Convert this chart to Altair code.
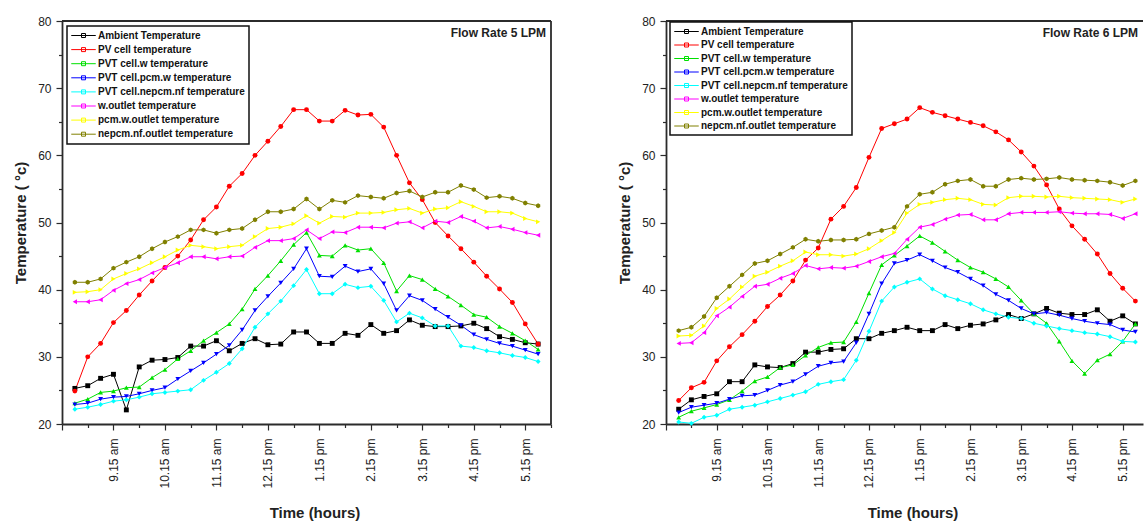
import altair as alt
import pandas as pd

FONT = "Liberation Sans"

# sample times (decimal hours), every 15 minutes from 8:30 am to 5:30 pm
times = [8.5, 8.75, 9.0, 9.25, 9.5, 9.75, 10.0, 10.25, 10.5, 10.75, 11.0, 11.25,
         11.5, 11.75, 12.0, 12.25, 12.5, 12.75, 13.0, 13.25, 13.5, 13.75, 14.0, 14.25,
         14.5, 14.75, 15.0, 15.25, 15.5, 15.75, 16.0, 16.25, 16.5, 16.75, 17.0, 17.25, 17.5]

tick_hours = [9.25, 10.25, 11.25, 12.25, 13.25, 14.25, 15.25, 16.25, 17.25]
tick_labels = ["9.15 am", "10.15 am", "11.15 am", "12.15 pm", "1.15 pm",
               "2.15 pm", "3.15 pm", "4.15 pm", "5.15 pm"]

series_names = ["Ambient Temperature", "PV cell temperature", "PVT cell.w temperature",
                "PVT cell.pcm.w temperature", "PVT cell.nepcm.nf temperature",
                "w.outlet temperature", "pcm.w.outlet temperature",
                "nepcm.nf.outlet temperature"]
series_colors = ["#000000", "#FF0000", "#00E000", "#0000FF", "#00FFFF",
                 "#FF00FF", "#FFFF00", "#808000"]
series_shapes = ["square", "circle", "triangle-up", "triangle-down", "diamond",
                 "triangle-left", "triangle-right",
                 "M0,-1L0.87,-0.5L0.87,0.5L0,1L-0.87,0.5L-0.87,-0.5Z"]

# ---- Flow rate 5 LPM ----
ambient_5 = [25.3, 25.7, 26.8, 27.4, 22.1, 28.5, 29.5, 29.6, 29.9, 31.6, 31.6, 32.4,
             30.9, 32.0, 32.7, 31.8, 31.9, 33.7, 33.7, 32.0, 32.0, 33.5, 33.2, 34.8,
             33.5, 33.9, 35.5, 34.7, 34.5, 34.5, 34.6, 35.0, 34.2, 33.0, 32.6, 32.1, 31.9]
pv_5 = [24.9, 30.0, 32.0, 35.1, 36.9, 39.2, 41.3, 43.3, 45.0, 47.4, 50.4, 52.3,
        55.4, 57.3, 60.0, 62.1, 64.3, 66.8, 66.8, 65.1, 65.1, 66.7, 66.0, 66.1,
        64.2, 60.0, 55.9, 53.4, 50.0, 48.0, 46.1, 44.1, 42.0, 40.1, 38.1, 34.9, 31.9]
pvt_w_5 = [23.1, 23.7, 24.7, 24.9, 25.4, 25.5, 26.9, 28.1, 29.7, 30.9, 32.4, 33.6,
           34.9, 37.1, 40.1, 42.1, 44.3, 46.7, 48.5, 45.1, 45.0, 46.6, 45.9, 46.1,
           44.0, 39.8, 42.1, 41.5, 40.1, 39.0, 37.7, 36.3, 35.9, 34.5, 33.5, 32.4, 31.1]
pvt_pcm_5 = [22.9, 23.1, 23.7, 24.0, 24.1, 24.5, 25.0, 25.4, 26.7, 27.9, 29.1, 30.4,
             31.7, 34.0, 36.9, 39.0, 41.0, 43.1, 46.1, 42.0, 41.9, 43.5, 42.7, 43.1,
             40.9, 36.9, 39.1, 38.4, 37.1, 35.9, 34.7, 33.3, 32.6, 32.0, 31.6, 31.0, 30.4]
pvt_nf_5 = [22.2, 22.5, 22.9, 23.4, 23.6, 24.0, 24.5, 24.7, 24.9, 25.1, 26.5, 27.7,
            29.0, 31.2, 34.4, 36.4, 38.3, 40.6, 43.0, 39.4, 39.4, 40.8, 40.3, 40.5,
            38.4, 35.2, 36.5, 35.8, 34.6, 34.6, 31.6, 31.4, 30.9, 30.6, 30.2, 29.9, 29.3]
w_out_5 = [38.2, 38.2, 38.5, 39.9, 40.9, 41.5, 42.5, 43.3, 44.0, 44.9, 44.9, 44.6,
           44.9, 45.0, 46.3, 47.3, 47.3, 47.6, 48.9, 47.6, 48.6, 48.5, 49.3, 49.3,
           49.2, 49.9, 50.1, 49.2, 50.2, 50.0, 50.9, 50.2, 49.2, 49.4, 49.0, 48.5, 48.1]
pcm_out_5 = [39.6, 39.7, 40.0, 41.6, 42.4, 43.1, 44.0, 44.9, 45.9, 46.6, 46.4, 46.1,
             46.4, 46.6, 47.9, 49.1, 49.3, 49.8, 51.0, 49.9, 50.9, 50.8, 51.4, 51.4,
             51.5, 51.9, 52.1, 51.4, 52.0, 52.2, 53.1, 52.4, 51.6, 51.6, 51.4, 50.6, 50.1]
nf_out_5 = [41.1, 41.1, 41.6, 43.2, 44.1, 44.9, 46.1, 47.1, 47.9, 48.9, 48.9, 48.4,
            48.9, 49.1, 50.4, 51.6, 51.6, 52.0, 53.5, 52.0, 53.3, 53.0, 54.0, 53.8,
            53.6, 54.4, 54.7, 53.8, 54.5, 54.5, 55.5, 54.9, 53.7, 53.9, 53.6, 52.9, 52.5]

# ---- Flow rate 6 LPM ----
ambient_6 = [22.2, 23.6, 24.1, 24.5, 26.3, 26.3, 28.8, 28.5, 28.4, 29.0, 30.7, 30.7,
             31.1, 31.2, 32.7, 32.7, 33.5, 33.9, 34.4, 33.9, 33.9, 34.8, 34.2, 34.7,
             34.9, 35.5, 36.3, 35.7, 36.4, 37.2, 36.5, 36.3, 36.3, 37.0, 35.3, 36.1, 34.9]
pv_6 = [23.5, 25.4, 26.2, 29.4, 31.5, 33.3, 35.3, 37.5, 39.2, 41.3, 44.4, 46.2,
        50.5, 52.4, 55.2, 59.7, 64.0, 64.7, 65.4, 67.1, 66.4, 65.9, 65.4, 64.9,
        64.4, 63.5, 62.3, 60.5, 58.4, 55.6, 52.0, 49.5, 47.5, 45.3, 42.4, 40.2, 38.3]
pvt_w_6 = [21.0, 21.9, 22.4, 22.9, 23.6, 24.9, 26.4, 27.0, 28.4, 28.8, 30.2, 31.4,
           32.1, 32.2, 35.2, 39.5, 43.7, 45.1, 46.5, 48.0, 47.0, 45.7, 44.4, 43.3,
           42.6, 41.6, 40.4, 38.4, 36.4, 35.0, 32.3, 29.4, 27.5, 29.5, 30.4, 32.3, 34.9]
pvt_pcm_6 = [21.7, 22.5, 22.8, 23.1, 23.7, 24.2, 24.3, 25.0, 25.8, 26.3, 27.4, 28.6,
             29.1, 29.3, 32.1, 36.4, 40.9, 43.9, 44.4, 45.2, 44.3, 43.3, 42.6, 41.6,
             40.6, 39.3, 38.4, 37.2, 36.4, 36.6, 36.2, 35.7, 35.3, 35.0, 34.8, 34.0, 33.7]
pvt_nf_6 = [20.3, 20.1, 21.0, 21.3, 22.2, 22.5, 22.8, 23.3, 23.8, 24.3, 24.8, 25.9,
            26.3, 26.6, 29.5, 33.8, 38.3, 40.4, 41.1, 41.6, 40.1, 39.1, 38.5, 37.9,
            37.0, 36.4, 35.9, 35.7, 35.0, 34.6, 34.2, 33.9, 33.6, 33.4, 33.0, 32.3, 32.2]
w_out_6 = [32.0, 32.1, 33.6, 36.1, 37.4, 39.0, 40.5, 40.8, 41.7, 42.4, 43.6, 43.1,
           43.3, 43.2, 43.5, 44.2, 44.9, 45.4, 47.5, 49.3, 49.7, 50.5, 51.1, 51.2,
           50.4, 50.4, 51.3, 51.5, 51.5, 51.5, 51.6, 51.4, 51.3, 51.3, 51.2, 50.6, 51.3]
pcm_out_6 = [33.1, 33.2, 34.6, 37.2, 38.6, 40.4, 42.0, 42.6, 43.5, 44.3, 45.6, 45.2,
             45.2, 45.0, 45.3, 46.1, 47.3, 48.5, 51.4, 52.7, 53.0, 53.4, 53.6, 53.4,
             52.7, 52.6, 53.7, 53.9, 53.9, 53.8, 53.9, 53.7, 53.6, 53.5, 53.4, 53.0, 53.5]
nf_out_6 = [33.9, 34.4, 36.0, 38.8, 40.5, 42.2, 43.9, 44.3, 45.3, 46.3, 47.5, 47.2,
            47.4, 47.4, 47.5, 48.3, 48.8, 49.3, 52.4, 54.2, 54.5, 55.7, 56.2, 56.4,
            55.4, 55.4, 56.4, 56.6, 56.4, 56.5, 56.7, 56.4, 56.3, 56.2, 56.0, 55.5, 56.2]

panel_5 = [ambient_5, pv_5, pvt_w_5, pvt_pcm_5, pvt_nf_5, w_out_5, pcm_out_5, nf_out_5]
panel_6 = [ambient_6, pv_6, pvt_w_6, pvt_pcm_6, pvt_nf_6, w_out_6, pcm_out_6, nf_out_6]


def long_table(columns):
    rows = []
    for k, (name, vals) in enumerate(zip(series_names, columns)):
        for t, v in zip(times, vals):
            rows.append({"time": t, "temp": v, "series": name, "k": k})
    return pd.DataFrame(rows)


x_label_expr = ("[" + ",".join(f"'{s}'" for s in tick_labels) + "][indexof(["
                + ",".join(str(v) for v in tick_hours) + "], datum.value)] || ''")

AXIS_COLOR = "#2b2b2b"
LEGEND_SYMBOL = "M-2.45,0H2.45M-0.4,-0.4H0.4V0.4H-0.4Z"


def panel(columns, flow_label, width, x_max, x_ticks, legend_x, legend_y, row_pad,
          right_edge):
    df = long_table(columns)
    height = 403

    x_axis = alt.Axis(
        values=x_ticks, labelExpr=x_label_expr, labelAngle=-90, labelOverlap=False,
        labelFlush=False, labelFont=FONT, labelFontSize=12, labelColor="#222",
        labelPadding=8, tickColor=AXIS_COLOR, tickWidth=1.2,
        tickSize={"condition": {"test": "datum.value % 1 == 0.25", "value": 6}, "value": 3.5},
        domainColor=AXIS_COLOR, domainWidth=1.8, grid=False,
        title="Time (hours)", titleFont=FONT, titleFontSize=15, titleFontWeight="bold",
        titleColor="#222", titlePadding=17, titleX=width / 2 + 8,
    )
    y_axis = alt.Axis(
        values=list(range(20, 81, 5)),
        labelExpr="datum.value % 10 == 0 ? datum.value : ''",
        labelFont=FONT, labelFontSize=12, labelColor="#222", labelPadding=5,
        tickColor=AXIS_COLOR, tickWidth=1.2,
        tickSize={"condition": {"test": "datum.value % 10 == 0", "value": 6}, "value": 3.5},
        domainColor=AXIS_COLOR, domainWidth=1.8, grid=False,
        title="Temperature ( °c)", titleFont=FONT, titleFontSize=15,
        titleFontWeight="bold", titleColor="#222", titlePadding=9,
    )
    x_enc = alt.X("time:Q", scale=alt.Scale(domain=[8.25, x_max], nice=False, zero=False),
                  axis=x_axis)
    y_enc = alt.Y("temp:Q", scale=alt.Scale(domain=[20, 80], nice=False, zero=False),
                  axis=y_axis)

    legend = alt.Legend(
        title=None, orient="none", legendX=legend_x, legendY=legend_y,
        symbolType=LEGEND_SYMBOL, symbolSize=100, symbolStrokeWidth=1,
        symbolOffset=7, labelOffset=9, labelFont=FONT, labelFontSize=10,
        labelFontWeight="bold", labelColor="#111", labelLimit=400,
        rowPadding=row_pad, padding=4,
        strokeColor="#111", fillColor="white", direction="vertical",
    )

    lines = alt.Chart(df).mark_line(strokeWidth=1).encode(
        x=x_enc, y=y_enc,
        stroke=alt.Stroke("series:N", sort=series_names,
                          scale=alt.Scale(domain=series_names, range=series_colors),
                          legend=legend),
        order="time:Q",
    )
    points = alt.Chart(df).mark_point(filled=True, size=24, opacity=1).encode(
        x=x_enc, y=y_enc,
        fill=alt.Fill("series:N", scale=alt.Scale(domain=series_names, range=series_colors),
                      legend=None),
        shape=alt.Shape("series:N", scale=alt.Scale(domain=series_names, range=series_shapes),
                        legend=None),
    )

    one = pd.DataFrame({"label": [flow_label]})
    note = alt.Chart(one).mark_text(
        align="right", baseline="middle", font=FONT, fontSize=12, fontWeight="bold",
        color="#222",
    ).encode(x=alt.value(width - 5), y=alt.value(12), text="label:N")

    top_rule = alt.Chart(one).mark_rule(color=AXIS_COLOR, strokeWidth=1.8).encode(
        x=alt.value(0), x2=alt.value(width), y=alt.value(0))
    layers = [lines, points, note, top_rule]
    if right_edge:
        right_rule = alt.Chart(one).mark_rule(color=AXIS_COLOR, strokeWidth=1.8).encode(
            x=alt.value(width), y=alt.value(0), y2=alt.value(height))
        layers.append(right_rule)

    return alt.layer(*layers).properties(width=width, height=height)


left = panel(panel_5, "Flow Rate 5 LPM", 489, 17.75,
             [8.25 + 0.5 * j for j in range(20)], 5, 5, 3.1, True)
right = panel(panel_6, "Flow Rate 6 LPM", 477, 17.65,
              [8.25 + 0.5 * j for j in range(19)], 4, 1, 2.5, False)

chart = alt.hconcat(left, right, spacing=60).resolve_legend(
    stroke="independent"
).resolve_scale(x="independent").properties(
    padding={"left": 13, "top": 15, "right": 0, "bottom": 0}
).configure_view(strokeOpacity=0).configure_legend(strokeWidth=1.5)

chart.save("out.html", embed_options={"renderer": "svg", "actions": False})
